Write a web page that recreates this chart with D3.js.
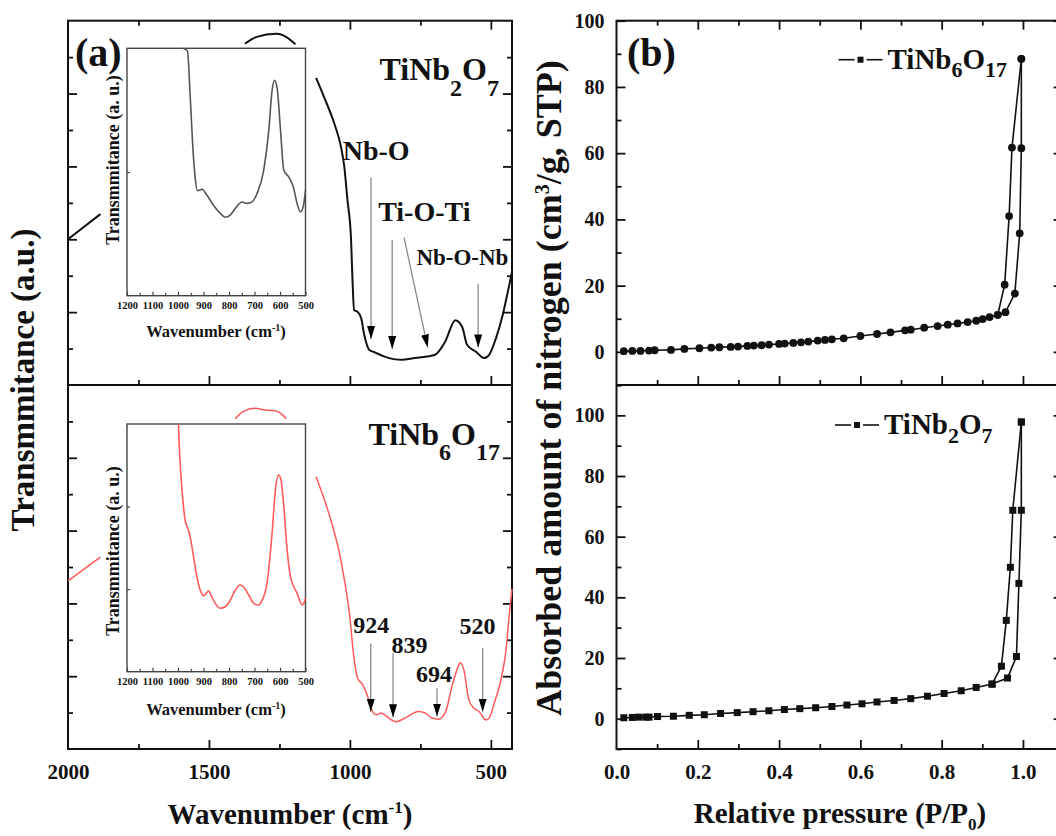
<!DOCTYPE html>
<html><head><meta charset="utf-8">
<script src="https://cdn.jsdelivr.net/npm/d3@7"></script>
<style>
body{margin:0;background:#fff}
svg{display:block}
text{font-family:"Liberation Serif","Times New Roman",serif;font-weight:bold;fill:#111}
</style></head>
<body><svg id="c" width="1056" height="836"></svg>
<script>
// ===================== DATA =====================
// Panel (a) main FTIR spectra: [wavenumber, transmittance (a.u.)]; null = hidden behind inset
const ftirTiNb2O7 = [[2000,4.00],[1885,4.69],null,
  [1372,9.37],[1333,9.55],[1261,9.64],[1225,9.55],[1193,9.35],null,
  [1120,8.43],[1092,7.91],[1056,7.19],[1032,6.55],[1020,6.00],[1009,5.10],[996,4.01],[991,2.92],[985,2.05],
  [973,2.01],[960,1.83],[949,1.37],[931,0.96],[913,0.90],[877,0.78],[817,0.69],[769,0.74],[727,0.78],
  [698,0.83],[662,1.19],[626,1.78],[602,1.60],[584,1.10],[554,0.92],[524,0.74],[506,0.83],[482,1.28],
  [458,1.92],[440,2.55],[425,3.10]];
const ftirTiNb6O17 = [[2000,4.62],[1885,5.27],null,
  [1407,9.07],[1379,9.27],[1337,9.36],[1307,9.32],[1265,9.29],[1242,9.20],[1226,9.07],null,
  [1120,7.48],[1092,6.88],[1062,6.14],[1038,5.41],[1020,4.67],[1002,3.75],[985,2.46],[973,1.95],[955,1.77],
  [937,1.44],[925,1.12],[907,0.94],[889,0.99],[877,0.94],[853,0.80],[835,0.75],[805,0.85],[757,1.03],
  [733,0.99],[709,0.85],[686,0.82],[662,0.99],[638,1.72],[620,2.18],[608,2.37],[596,2.18],[578,1.35],
  [560,1.12],[542,1.03],[518,0.80],[506,0.85],[488,1.26],[464,1.91],[446,2.73],[434,3.75],[425,4.40]];
// Insets (1200-500 cm-1)
const insetTiNb2O7 = [[981,10.0],[963,9.89],[952,8.03],[942,6.02],[933,4.80],[924,4.24],[906,4.30],[887,4.07],
  [861,3.66],[834,3.33],[815,3.17],[795,3.26],[775,3.53],[749,3.79],[729,3.73],[710,3.79],[690,4.13],
  [664,5.07],[644,6.69],[631,8.30],[622,8.71],[611,8.37],[598,6.69],[585,5.07],[566,4.80],[548,4.40],
  [533,3.73],[520,3.39],[509,3.59],[500,4.27]];
const insetTiNb6O17 = [[998,10.0],[996,9.35],[989,8.01],[981,6.93],[972,6.12],[959,5.72],[950,5.32],[939,4.64],
  [926,3.84],[913,3.30],[900,3.06],[889,3.17],[880,3.27],[871,3.10],[854,2.76],[834,2.56],[815,2.62],
  [795,2.89],[775,3.30],[756,3.50],[743,3.43],[723,3.10],[703,2.76],[684,2.69],[670,2.89],[651,3.57],
  [631,5.59],[618,7.34],[605,7.94],[596,7.74],[585,6.66],[572,4.91],[559,3.84],[546,3.43],[533,3.17],
  [513,2.69],[500,2.96]];
// Band arrows: [from wavenumber, from y, to wavenumber, to y]
const arrowsTiNb2O7 = [[925,5.69,925,1.26],[850,3.98,850,0.99],[808,4.05,724,1.03],[545,2.77,545,1.03]];
const arrowsTiNb6O17 = [[926,2.90,926,1.02],[847,2.63,847,0.87],[691,1.67,691,0.89],[529,2.77,529,1.02]];
// Band labels: [text, wavenumber, y, size]
const bandLabelsTiNb2O7 = [["Nb-O",907,6.18,28],["Ti-O-Ti",736,4.49,28],["Nb-O-Nb",601,3.30,23]];
const bandLabelsTiNb6O17 = [["924",924,3.19,24],["839",789,2.64,24],["694",702,1.85,24],["520",547,3.16,24]];
// Tick labels
const ftirTicks = [2000,1500,1000,500];
const insetTicks = [1200,1100,1000,900,800,700,600,500];
const pressureTicks = [0.0,0.2,0.4,0.6,0.8,1.0];
const amountTicks = [0,20,40,60,80,100];

// Panel (b) N2 isotherms: [P/P0, volume]
const bet6O17Ads = [[0.018,0.2],[0.039,0.3],[0.059,0.3],[0.080,0.4],[0.094,0.5],[0.134,0.6],[0.167,0.9],[0.204,1.1],
  [0.233,1.3],[0.253,1.4],[0.281,1.5],[0.299,1.6],[0.322,1.8],[0.338,1.9],[0.357,2.0],[0.375,2.2],[0.400,2.4],
  [0.414,2.5],[0.435,2.7],[0.454,2.9],[0.472,3.1],[0.495,3.4],[0.513,3.6],[0.530,3.8],[0.559,4.1],[0.600,4.8],
  [0.641,5.4],[0.674,5.9],[0.710,6.5],[0.724,6.7],[0.757,7.3],[0.790,7.8],[0.815,8.2],[0.839,8.6],[0.864,9.0],
  [0.885,9.4],[0.901,9.9],[0.918,10.5],[0.938,11.2],[0.955,20.3],[0.966,41.0],[0.973,61.7],[0.996,88.5]];
const bet6O17Des = [[0.996,88.5],[0.996,61.5],[0.992,35.8],[0.980,17.6],[0.957,12.0],[0.938,11.2]];
const bet2O7Ads = [[0.018,0.3],[0.039,0.4],[0.055,0.5],[0.072,0.5],[0.080,0.5],[0.101,0.7],[0.140,0.8],[0.179,1.1],
  [0.216,1.3],[0.256,1.7],[0.297,2.0],[0.336,2.3],[0.375,2.6],[0.413,3.0],[0.451,3.3],[0.490,3.6],[0.530,4.0],
  [0.567,4.5],[0.604,4.9],[0.641,5.5],[0.683,6.0],[0.724,6.6],[0.765,7.4],[0.806,8.3],[0.848,9.2],[0.885,10.3],
  [0.924,11.4],[0.947,17.3],[0.959,32.4],[0.969,49.9],[0.975,68.7],[0.996,97.8]];
const bet2O7Des = [[0.996,97.8],[0.996,68.7],[0.990,44.6],[0.984,20.5],[0.962,13.4],[0.924,11.4]];

// ===================== DRAW =====================
const svg = d3.select("#c");
const RED = "#ff5a5a", INK = "#111", GRAY = "#555";

const xA  = d3.scaleLinear().domain([2000,425]).range([68,512]);
const yAt = d3.scaleLinear().domain([0,10]).range([385,20.7]);
const yAb = d3.scaleLinear().domain([0,10]).range([749,385]);
const xI  = d3.scaleLinear().domain([1200,500]).range([127,305.5]);
const yIt = d3.scaleLinear().domain([0,10]).range([295.7,48.3]);
const yIb = d3.scaleLinear().domain([0,10]).range([671.7,424]);
const xB  = d3.scaleLinear().domain([0,1.1]).range([616.5,1063.6]);
const yBt = d3.scaleLinear().domain([-10,100]).range([385,20.7]);
const yBb = d3.scaleLinear().domain([-10,110]).range([749,385]);

svg.append("defs").append("marker").attr("id","ah").attr("markerUnits","userSpaceOnUse")
  .attr("viewBox","0 -4.5 13 9").attr("refX",13).attr("refY",0)
  .attr("markerWidth",13).attr("markerHeight",9).attr("orient","auto")
  .append("path").attr("d","M0,-4L13,0L0,4Z").attr("fill","#000");

function tickSet(axisFn, scale, values, size, tr, color, width){
  svg.append("g").attr("transform",tr)
    .call(axisFn(scale).tickValues(values).tickSize(-size).tickFormat(""))
    .call(g=>{g.select(".domain").remove();
      g.selectAll("line").attr("stroke",color||INK).attr("stroke-width",width||1.8);});
}
function labelSet(axisFn, scale, values, fmt, pad, tr, size){
  const g = svg.append("g").attr("transform",tr)
    .call(axisFn(scale).tickValues(values).tickSize(0).tickPadding(pad).tickFormat(fmt));
  g.attr("font-family",null).attr("font-size",null);
  g.select(".domain").remove();
  g.selectAll("text").attr("font-size",size).attr("fill",INK);
  return g;
}
function rich(x,y,parts,size,anchor,rot){
  const t = svg.append("text").attr("font-size",size).attr("text-anchor",anchor||"start");
  if(rot) t.attr("transform",`translate(${x},${y}) rotate(-90)`); else t.attr("x",x).attr("y",y);
  let cur = 0;
  parts.forEach(p=>{
    const s = t.append("tspan").text(p[0]);
    const off = p[1]||0;
    if(off!==cur){ s.attr("dy", off-cur); cur = off; }
    if(p[2]) s.attr("font-size",p[2]);
  });
  return t;
}

// ---------- Panel (a) ----------
const majA = [2,4,6,8], minA = [1,3,5,7,9];
[yAt,yAb].forEach(ys=>{
  tickSet(d3.axisLeft, ys, majA, 9, "translate(68,0)");
  tickSet(d3.axisLeft, ys, minA, 5, "translate(68,0)");
  tickSet(d3.axisRight, ys, majA, 9, "translate(512,0)");
  tickSet(d3.axisRight, ys, minA, 5, "translate(512,0)");
});
const xMajA = [1500,1000,500], xMinA = [1750,1250,750];
tickSet(d3.axisTop, xA, xMajA, 9, "translate(0,20.7)");
tickSet(d3.axisTop, xA, xMinA, 5, "translate(0,20.7)");
tickSet(d3.axisBottom, xA, xMajA, 9, "translate(0,385)");
tickSet(d3.axisBottom, xA, xMinA, 5, "translate(0,385)");
tickSet(d3.axisBottom, xA, xMajA, 9, "translate(0,749)");
tickSet(d3.axisBottom, xA, xMinA, 5, "translate(0,749)");
svg.append("rect").attr("x",68).attr("y",20.7).attr("width",444).attr("height",728.3)
  .attr("fill","none").attr("stroke",INK).attr("stroke-width",2);
svg.append("line").attr("x1",68).attr("x2",512).attr("y1",385).attr("y2",385).attr("stroke",INK).attr("stroke-width",2);
labelSet(d3.axisBottom, xA, ftirTicks, d3.format("d"), 15, "translate(0,749)", 21);

const lineA = ys => d3.line().defined(d=>d!=null).x(d=>xA(d[0])).y(d=>ys(d[1])).curve(d3.curveMonotoneX);
svg.append("path").attr("d",lineA(yAt)(ftirTiNb2O7)).attr("fill","none").attr("stroke",INK).attr("stroke-width",2);
svg.append("path").attr("d",lineA(yAb)(ftirTiNb6O17)).attr("fill","none").attr("stroke",RED).attr("stroke-width",1.5);

function arrows(data, ys){
  svg.append("g").selectAll("line").data(data).join("line")
    .attr("x1",d=>xA(d[0])).attr("y1",d=>ys(d[1])).attr("x2",d=>xA(d[2])).attr("y2",d=>ys(d[3]))
    .attr("stroke","#8a8a8a").attr("stroke-width",1.3).attr("marker-end","url(#ah)");
}
arrows(arrowsTiNb2O7, yAt);
arrows(arrowsTiNb6O17, yAb);
function bandLabels(data, ys){
  svg.append("g").selectAll("text").data(data).join("text")
    .attr("x",d=>xA(d[1])).attr("y",d=>ys(d[2])).attr("text-anchor","middle")
    .attr("font-size",d=>d[3]).text(d=>d[0]);
}
bandLabels(bandLabelsTiNb2O7, yAt);
bandLabels(bandLabelsTiNb6O17, yAb);

// insets
function inset(ys, data, color, yTicks, labelY, ylabCenter){
  const top = ys.range()[1], bot = ys.range()[0];
  tickSet(d3.axisBottom, xI, insetTicks, 4, `translate(0,${bot})`, "#444", 1.2);
  tickSet(d3.axisBottom, xI, d3.range(1150,500,-100), 3, `translate(0,${bot})`, "#444", 1.2);
  tickSet(d3.axisLeft, ys, yTicks, 3, "translate(127,0)", "#444", 1.2);
  svg.append("rect").attr("x",127).attr("y",top).attr("width",178.5).attr("height",bot-top)
    .attr("fill","none").attr("stroke","#444").attr("stroke-width",1.4);
  svg.append("path").attr("d",d3.line().x(d=>xI(d[0])).y(d=>ys(d[1])).curve(d3.curveMonotoneX)(data))
    .attr("fill","none").attr("stroke",color).attr("stroke-width",1.6);
  labelSet(d3.axisBottom, xI, insetTicks, d3.format("d"), 6, `translate(0,${bot})`, 10.5);
  rich(216, labelY, [["Wavenumber (cm"],["-1",-6,10],[")",0]], 16.5, "middle");
  rich(119, ylabCenter, [["Transmmitance (a. u.)"]], 18, "middle", true);
}
inset(yIt, insetTiNb2O7, GRAY, [5], 337, 160);
inset(yIb, insetTiNb6O17, RED, [10/3, 20/3], 715, 551);

rich(499, 80, [["TiNb"],["2",16,24],["O",0],["7",16,24]], 32, "end");
rich(500, 445, [["TiNb"],["6",15,24],["O",0],["17",15,24]], 32, "end");
svg.append("text").attr("x",75).attr("y",66).attr("font-size",40).text("(a)");
rich(290, 824, [["Wavenumber (cm"],["-1",-11,17],[")",0]], 29, "middle");
rich(34, 380, [["Transmmitance (a.u.)"]], 33, "middle", true);

// ---------- Panel (b) ----------
[[yBt,[-10,10,30,50,70,90]],[yBb,[-10,10,30,50,70,90,110]]].forEach(([ys,min])=>{
  tickSet(d3.axisLeft, ys, amountTicks, 9, "translate(616.5,0)");
  tickSet(d3.axisLeft, ys, min, 5, "translate(616.5,0)");
  tickSet(d3.axisRight, ys, amountTicks, 10, "translate(1063.6,0)");
  tickSet(d3.axisRight, ys, min, 5, "translate(1063.6,0)");
  labelSet(d3.axisLeft, ys, amountTicks, d3.format("d"), 12, "translate(616.5,0)", 20);
});
const xMajB = [0.2,0.4,0.6,0.8,1.0], xMinB = [0.1,0.3,0.5,0.7,0.9];
tickSet(d3.axisTop, xB, xMajB, 9, "translate(0,20.7)");
tickSet(d3.axisTop, xB, xMinB, 5, "translate(0,20.7)");
tickSet(d3.axisBottom, xB, xMajB, 9, "translate(0,385)");
tickSet(d3.axisBottom, xB, xMinB, 5, "translate(0,385)");
tickSet(d3.axisBottom, xB, xMajB, 9, "translate(0,749)");
tickSet(d3.axisBottom, xB, xMinB, 5, "translate(0,749)");
svg.append("rect").attr("x",616.5).attr("y",20.7).attr("width",447.1).attr("height",728.3)
  .attr("fill","none").attr("stroke",INK).attr("stroke-width",2);
svg.append("line").attr("x1",616.5).attr("x2",1063.6).attr("y1",385).attr("y2",385).attr("stroke",INK).attr("stroke-width",2);
labelSet(d3.axisBottom, xB, pressureTicks, d3.format(".1f"), 15, "translate(0,749)", 21);

function isotherm(ys, ads, des, shape){
  const ln = d3.line().x(d=>xB(d[0])).y(d=>ys(d[1]));
  [ads,des].forEach(s=>svg.append("path").attr("d",ln(s)).attr("fill","none").attr("stroke",INK).attr("stroke-width",1.6));
  const pts = ads.concat(des);
  const g = svg.append("g");
  if(shape==="circle")
    g.selectAll("circle").data(pts).join("circle").attr("cx",d=>xB(d[0])).attr("cy",d=>ys(d[1])).attr("r",3.9).attr("fill",INK);
  else
    g.selectAll("rect").data(pts).join("rect").attr("x",d=>xB(d[0])-3.5).attr("y",d=>ys(d[1])-3.5)
      .attr("width",7).attr("height",7).attr("fill",INK);
}
isotherm(yBt, bet6O17Ads, bet6O17Des, "circle");
isotherm(yBb, bet2O7Ads, bet2O7Des, "square");

function legend(x0, y0, parts, size){
  svg.append("line").attr("x1",x0).attr("x2",x0+16).attr("y1",y0).attr("y2",y0).attr("stroke",INK).attr("stroke-width",1.6);
  svg.append("line").attr("x1",x0+28).attr("x2",x0+44).attr("y1",y0).attr("y2",y0).attr("stroke",INK).attr("stroke-width",1.6);
  svg.append("rect").attr("x",x0+19).attr("y",y0-3).attr("width",6).attr("height",6).attr("fill",INK);
  rich(x0+49, y0+9, parts, size, "start");
}
legend(838.5, 59.7, [["TiNb"],["6",8,22],["O",0],["17",8,22]], 29);
legend(835, 425, [["TiNb"],["2",9,22],["O",0],["7",9,22]], 29);

svg.append("text").attr("x",627).attr("y",66).attr("font-size",40).text("(b)");
rich(840, 823, [["Relative pressure (P/P"],["0",7,17],[")",-0.001]], 29, "middle");
rich(561, 388, [["Absorbed amount of nitrogen (cm"],["3",-12,20],["/g, STP)",0]], 36, "middle", true);
</script></body></html>
